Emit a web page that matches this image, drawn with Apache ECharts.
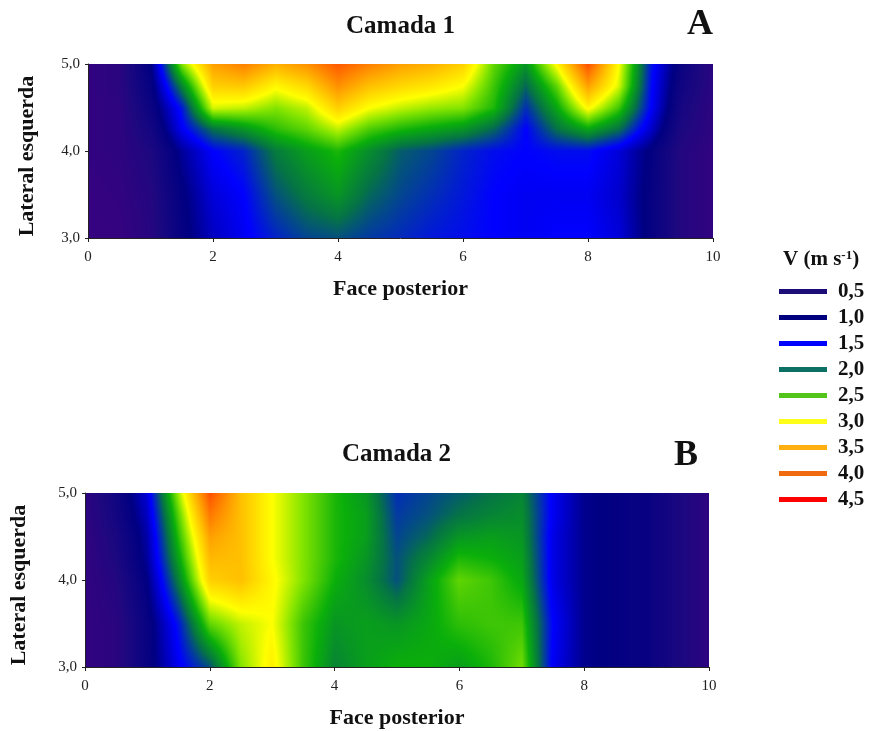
<!DOCTYPE html>
<html>
<head>
<meta charset="utf-8">
<style>
  html, body { margin: 0; padding: 0; background: #fff; }
  #chart { width: 875px; height: 731px; }
</style>
<script src="https://cdn.jsdelivr.net/npm/echarts@6/dist/echarts.min.js"></script>
</head>
<body>
<div id="chart"></div>
<script>
// grid positions
const xValues = [0, 0.5, 1, 1.5, 2, 2.5, 3, 3.5, 4, 4.5, 5, 5.5, 6, 6.5, 7, 7.5, 8, 8.5, 9, 9.5, 10];
const yValues = [3, 3.5, 4, 4.25, 4.5, 4.75, 5];

// Camada 1, one array per row of y
const c1y30 = [.15,.15,.35,.9,1.25,1.45,1.65,1.8,1.85,1.75,1.68,1.6,1.55,1.5,1.45,1.5,1.5,1.35,.9,.4,.2];
const c1y35 = [.15,.2,.4,.95,1.35,1.5,1.85,2.05,2.2,1.95,1.8,1.7,1.6,1.5,1.45,1.45,1.45,1.3,.9,.4,.2];
const c1y40 = [.2,.25,.5,1.1,1.5,1.65,2.05,2.25,2.4,2.15,1.9,1.8,1.65,1.55,1.5,1.55,1.55,1.35,.95,.4,.2];
const c1y425 = [.2,.25,.65,1.45,2.0,2.2,2.45,2.6,2.85,2.55,2.4,2.3,2.2,1.95,1.5,2.0,2.3,2.0,1.3,.5,.25];
const c1y45 = [.2,.25,.8,1.6,2.9,2.85,2.7,2.85,3.3,3.0,2.85,2.75,2.7,2.4,1.7,2.3,3.05,2.5,1.5,.6,.25];
const c1y475 = [.2,.3,.9,2.1,3.3,3.35,3.05,3.25,3.7,3.4,3.25,3.15,3.0,2.5,1.95,2.6,3.6,2.9,1.55,.7,.3];
const c1y50 = [.2,.3,1.0,2.7,3.6,3.8,3.5,3.7,4.05,3.8,3.6,3.5,3.3,2.6,2.2,3.05,4.1,3.0,1.6,.8,.3];

// Camada 2
const c2y30 = [.2,.3,.85,1.45,1.85,2.7,3.1,2.5,2.1,2.25,2.35,2.35,2.25,2.4,2.65,1.45,1.05,.95,.85,.55,.25];
const c2y35 = [.2,.3,.85,1.6,2.6,2.85,3.0,2.5,2.2,2.25,2.2,2.3,2.45,2.5,2.5,1.5,1.05,.95,.85,.55,.25];
const c2y40 = [.2,.4,1.0,2.1,3.3,3.4,3.05,2.7,2.35,2.15,1.85,2.25,2.6,2.5,2.3,1.4,1.05,.95,.85,.55,.25];
const c2y425 = [.2,.5,1.1,2.3,3.45,3.4,3.0,2.7,2.4,2.2,1.85,2.1,2.4,2.35,2.25,1.4,1.05,.95,.85,.55,.25];
const c2y45 = [.2,.55,1.15,2.45,3.6,3.4,3.0,2.7,2.4,2.25,1.8,1.95,2.2,2.25,2.2,1.4,1.05,.95,.85,.55,.25];
const c2y475 = [.25,.65,1.25,2.6,3.85,3.4,3.0,2.7,2.4,2.25,1.75,1.85,2.0,2.1,2.15,1.45,1.05,.95,.85,.55,.25];
const c2y50 = [.25,.7,1.35,2.8,4.1,3.4,3.0,2.7,2.4,2.2,1.7,1.8,1.9,2.0,2.1,1.45,1.05,.95,.85,.55,.25];

const rows1 = [c1y30, c1y35, c1y40, c1y425, c1y45, c1y475, c1y50];
const rows2 = [c2y30, c2y35, c2y40, c2y425, c2y45, c2y475, c2y50];

const legendLabels = ['0,5', '1,0', '1,5', '2,0', '2,5', '3,0', '3,5', '4,0', '4,5'];
const legendColors = ['#1c0c78', '#00007f', '#0000ff', '#0d7065', '#52c41a', '#ffff1a', '#ffb010', '#f06a10', '#ff0000'];

// colour scale of the plot, value -> rgb
const scaleStops = [
  [0, [64, 0, 128]], [0.5, [28, 8, 128]], [1, [0, 0, 130]], [1.5, [0, 0, 255]], [2, [5, 115, 70]],
  [2.35, [10, 175, 10]], [2.7, [130, 228, 0]], [3, [255, 255, 0]], [3.5, [255, 176, 0]], [4, [255, 96, 0]], [4.5, [255, 0, 0]]
];

function valueToRgb(v) {
  if (v <= scaleStops[0][0]) return scaleStops[0][1];
  for (let i = 1; i < scaleStops.length; i++) {
    if (v <= scaleStops[i][0]) {
      const a = scaleStops[i - 1], b = scaleStops[i];
      const t = (v - a[0]) / (b[0] - a[0]);
      return [0, 1, 2].map(k => a[1][k] + (b[1][k] - a[1][k]) * t);
    }
  }
  return scaleStops[scaleStops.length - 1][1];
}

// every grid cell: x0, x1, y0, y1 and the four corner values
function buildCells(rows) {
  const cells = [];
  for (let r = 0; r < yValues.length - 1; r++) {
    for (let c = 0; c < xValues.length - 1; c++) {
      cells.push([xValues[c], xValues[c + 1], yValues[r], yValues[r + 1],
        rows[r][c], rows[r][c + 1], rows[r + 1][c], rows[r + 1][c + 1]]);
    }
  }
  return cells;
}

function cellImage(w, h, v00, v10, v01, v11) {
  const cv = document.createElement('canvas');
  cv.width = w;
  cv.height = h;
  const ctx = cv.getContext('2d');
  const img = ctx.createImageData(w, h);
  for (let j = 0; j < h; j++) {
    const ty = 1 - (j + 0.5) / h;
    for (let i = 0; i < w; i++) {
      const tx = (i + 0.5) / w;
      const v = (v00 * (1 - tx) + v10 * tx) * (1 - ty) + (v01 * (1 - tx) + v11 * tx) * ty;
      const rgb = valueToRgb(v);
      const p = (j * w + i) * 4;
      img.data[p] = rgb[0];
      img.data[p + 1] = rgb[1];
      img.data[p + 2] = rgb[2];
      img.data[p + 3] = 255;
    }
  }
  ctx.putImageData(img, 0, 0);
  return cv;
}

function renderCell(params, api) {
  const a = api.coord([api.value(0), api.value(3)]);
  const b = api.coord([api.value(1), api.value(2)]);
  const x = Math.round(a[0]), y = Math.round(a[1]);
  const w = Math.round(b[0]) - x, h = Math.round(b[1]) - y;
  if (w <= 0 || h <= 0) return;
  return {
    type: 'image',
    silent: true,
    style: {
      image: cellImage(w, h, api.value(4), api.value(5), api.value(6), api.value(7)),
      x: x, y: y, width: w, height: h
    }
  };
}

const serif = '"Liberation Serif", "Times New Roman", serif';

function xAxisFor(gridIndex) {
  return {
    gridIndex: gridIndex, type: 'value', min: 0, max: 10, interval: 2,
    name: 'Face posterior', nameLocation: 'middle', nameGap: 40,
    nameTextStyle: { fontFamily: serif, fontWeight: 'bold', fontSize: 22, color: '#111' },
    axisLine: { show: true, onZero: false, lineStyle: { color: '#222', width: 1 } },
    axisTick: { show: true, length: 4, lineStyle: { color: '#222' } },
    axisLabel: { fontFamily: serif, fontSize: 15, color: '#222', margin: 12 },
    splitLine: { show: false }, z: 5
  };
}

function yAxisFor(gridIndex, nameGap) {
  return {
    gridIndex: gridIndex, type: 'value', min: 3, max: 5, interval: 1,
    name: 'Lateral esquerda', nameLocation: 'middle', nameGap: nameGap, nameRotate: 90,
    nameTextStyle: { fontFamily: serif, fontWeight: 'bold', fontSize: 22, color: '#111', padding: [0, 10, 0, 0] },
    axisLine: { show: true, onZero: false, lineStyle: { color: '#222', width: 1 } },
    axisTick: { show: true, length: 3, lineStyle: { color: '#222' } },
    axisLabel: { fontFamily: serif, fontSize: 15, color: '#222', margin: 8,
      formatter: v => v.toFixed(1).replace('.', ',') },
    splitLine: { show: false }, z: 5
  };
}

const titleFont = { fontFamily: serif, fontWeight: 'bold', color: '#111' };

const chart = echarts.init(document.getElementById('chart'), null, { renderer: 'canvas' });
chart.setOption({
  animation: false,
  backgroundColor: '#fff',
  title: [
    { text: 'Camada 1', left: 341, top: 9, textStyle: { ...titleFont, fontSize: 25 } },
    { text: 'Camada 2', left: 337, top: 437, textStyle: { ...titleFont, fontSize: 25 } },
    { text: 'A', left: 682, top: 2, textStyle: { ...titleFont, fontSize: 36 } },
    { text: 'B', left: 669, top: 433, textStyle: { ...titleFont, fontSize: 36 } },
    {
      text: '{a|V (m s}{b|-1}{a|)}', left: 778, top: 244,
      textStyle: {
        rich: {
          a: { ...titleFont, fontSize: 21 },
          b: { ...titleFont, fontSize: 13, verticalAlign: 'top', padding: [0, 0, 7, 0] }
        }
      }
    }
  ],
  grid: [
    { left: 88, top: 64, width: 625, height: 174 },
    { left: 84, top: 493, width: 625, height: 174 }
  ],
  xAxis: [xAxisFor(0), xAxisFor(1)],
  yAxis: [yAxisFor(0, 50), yAxisFor(1, 55)],
  legend: {
    orient: 'vertical', left: 774, top: 276, itemWidth: 48, itemHeight: 5, itemGap: 5,
    icon: 'rect', selectedMode: false,
    data: legendLabels,
    textStyle: { fontFamily: serif, fontWeight: 'bold', fontSize: 21, color: '#111', lineHeight: 21, padding: [0, 0, 0, 6] }
  },
  series: [
    { name: 'Camada 1', type: 'custom', xAxisIndex: 0, yAxisIndex: 0, renderItem: renderCell, data: buildCells(rows1), clip: false, z: 1 },
    { name: 'Camada 2', type: 'custom', xAxisIndex: 1, yAxisIndex: 1, renderItem: renderCell, data: buildCells(rows2), clip: false, z: 1 }
  ].concat(legendLabels.map((label, i) => ({
    name: label, type: 'line', xAxisIndex: 0, yAxisIndex: 0, data: [], itemStyle: { color: legendColors[i] }, lineStyle: { color: legendColors[i] }
  })))
});
</script>
</body>
</html>
